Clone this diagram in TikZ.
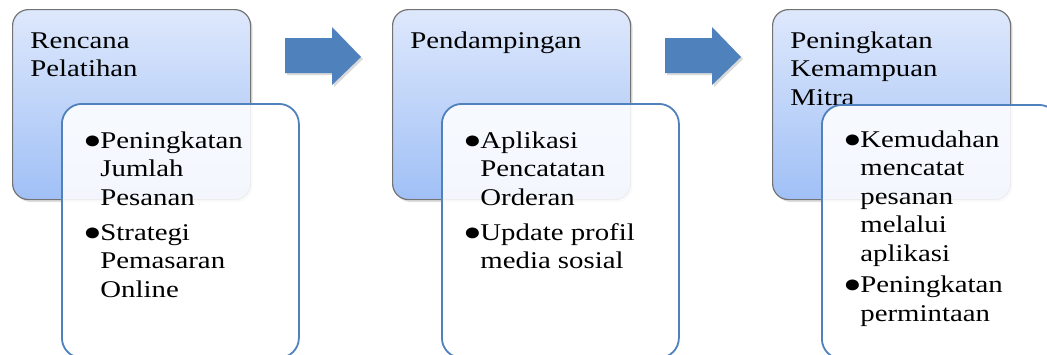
\documentclass[tikz,border=0pt]{standalone}
\usepackage{fontspec}
\setmainfont[FakeStretch=1.2]{Liberation Serif}
\usetikzlibrary{shadows}

\definecolor{stagetop}{RGB}{222,232,252}
\definecolor{stagebot}{RGB}{160,192,246}
\definecolor{officeblue}{RGB}{79,129,189}
\newcommand{\blt}{\makebox[7pt][l]{\hspace{-1.5pt}\scalebox{1.05}{●}}}

\begin{document}
\begin{tikzpicture}[x=0.5pt,y=-0.5pt,
    stage/.style={draw=black!55,line width=0.6pt,rounded corners=8pt,
        top color=stagetop,bottom color=stagebot,anchor=north west,
        minimum width=119pt,minimum height=95pt,
        drop shadow={opacity=0.25,shadow xshift=1pt,shadow yshift=-1.2pt}},
    detail/.style={draw=officeblue,line width=0.9pt,fill=white,fill opacity=0.88,
        rounded corners=10pt,anchor=north west,minimum width=118.5pt,minimum height=127pt},
    title/.style={anchor=north west,inner sep=0pt,text width=112pt,align=left,
        font=\fontsize{12}{14.25}\selectfont},
    list/.style={anchor=north west,inner sep=0pt,
        font=\fontsize{12}{14.25}\selectfont},
    flow/.style={fill=officeblue,
        drop shadow={opacity=0.3,shadow xshift=1pt,shadow yshift=-1pt}}]
\useasboundingbox (0,0) rectangle (1047,354);

% stages
\node[stage] (s1) at (12,9) {};
\node[stage] (s2) at (392,9) {};
\node[stage] (s3) at (772,9) {};
\node[title] (t1) at (30,28) {\strut Rencana\\Pelatihan};
\node[title] (t2) at (410,28) {\strut Pendampingan};
\node[title] (t3) at (790,28) {\strut Peningkatan\\Kemampuan\\Mitra};

% details
\node[detail] (d1) at (61,103) {};
\node[detail] (d2) at (441,103) {};
\node[detail] (d3) at (821,104) {};
\node[list] (l1) at (86,128) {\begin{tabular}{@{}l@{}l@{}}
    \blt&Peningkatan\\ &Jumlah\\ &Pesanan\\[3.25pt]
    \blt&Strategi\\ &Pemasaran\\ &Online\end{tabular}};
\node[list] (l2) at (466,128) {\begin{tabular}{@{}l@{}l@{}}
    \blt&Aplikasi\\ &Pencatatan\\ &Orderan\\[3.25pt]
    \blt&Update profil\\ &media sosial\end{tabular}};
\node[list] (l3) at (846,127) {\begin{tabular}{@{}l@{}l@{}}
    \blt&Kemudahan\\ &mencatat\\ &pesanan\\ &melalui\\ &aplikasi\\[1.5pt]
    \blt&Peningkatan\\ &permintaan\end{tabular}};

% arrows
\foreach \dx in {0,380}
    \fill[flow,xshift=\dx*0.5pt] (285,38)--(332,38)--(332,27)--(361,57)--(332,85)--(332,73)--(285,73)--cycle;

\end{tikzpicture}
\end{document}
